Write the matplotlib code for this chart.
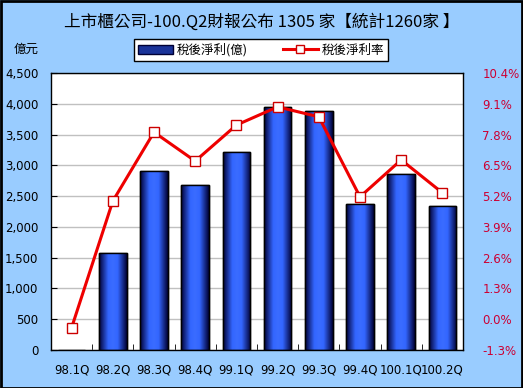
import numpy as np
import matplotlib
matplotlib.use("Agg")
import matplotlib.pyplot as plt
from matplotlib.colors import LinearSegmentedColormap
from matplotlib.lines import Line2D
from matplotlib.patches import Patch

plt.rcParams['font.family'] = ['Noto Sans CJK TC', 'DejaVu Sans']

categories = ['98.1Q', '98.2Q', '98.3Q', '98.4Q', '99.1Q', '99.2Q', '99.3Q', '99.4Q', '100.1Q', '100.2Q']
profit = [0, 1580, 2905, 2680, 3215, 3945, 3878, 2368, 2855, 2335]
rate = [-0.36, 4.99, 7.90, 6.68, 8.20, 8.97, 8.55, 5.17, 6.73, 5.34]
left_ticks = [0, 500, 1000, 1500, 2000, 2500, 3000, 3500, 4000, 4500]
right_ticks = [-1.3, 0.0, 1.3, 2.6, 3.9, 5.2, 6.5, 7.8, 9.1, 10.4]

title = '上市櫃公司-100.Q2財報公布 1305 家【統計1260家 】'

bg = '#99CCFF'
fig = plt.figure(figsize=(5.23, 3.88), dpi=100, facecolor=bg)
W, H = 523, 388
ax = fig.add_axes([51 / W, 1 - 350 / H, (463 - 51) / W, (350 - 73) / H])
ax.set_facecolor('white')

x = np.arange(len(categories))
bars = ax.bar(x, profit, width=0.67, color='#3366FF', edgecolor='black', linewidth=1.0, zorder=2)

cmap = LinearSegmentedColormap.from_list('g', ['#000033', '#1a3399', '#3366FF', '#3a6cff', '#3366FF', '#1a3399', '#000033'])
grad = np.linspace(0, 1, 256).reshape(1, -1)
for b in bars:
    if b.get_height() <= 0:
        continue
    x0 = b.get_x()
    im = ax.imshow(grad, extent=[x0, x0 + b.get_width(), 0, b.get_height()], aspect='auto',
                   cmap=cmap, zorder=2.1, interpolation='bilinear')
    im.set_clip_path(b)
    ax.bar(b.get_x() + b.get_width() / 2, b.get_height(), width=b.get_width(), fill=False,
           edgecolor='black', linewidth=1.0, zorder=2.2)

ax.set_xlim(-0.5, len(categories) - 0.5)
ax.set_ylim(0, 4500)
ax.set_yticks(left_ticks)
ax.set_yticklabels([f'{v:,}' for v in left_ticks], fontsize=8.5, family=['DejaVu Sans'])
ax.set_xticks(x)
ax.set_xticklabels(categories, fontsize=8.5, family=['DejaVu Sans'])
ax.tick_params(axis='x', length=0, pad=10)
ax.set_xticks(np.arange(-0.5, len(categories), 1), minor=True)
ax.tick_params(axis='x', which='minor', direction='in', length=4, color='black')
ax.tick_params(axis='y', direction='in', length=4, pad=9)
ax.yaxis.grid(True, color='#C0C0C0', linewidth=1.0, zorder=0)
ax.set_axisbelow(True)
for s in ax.spines.values():
    s.set_color('black')
    s.set_linewidth(1.0)

ax2 = ax.twinx()
ax2.plot(x, rate, color='#EE0000', linewidth=2.2, marker='s', markersize=6.5,
         markerfacecolor='white', markeredgecolor='#CC0000', markeredgewidth=1.0, zorder=5)
ax2.set_ylim(-1.3, 10.4)
ax2.set_yticks(right_ticks)
ax2.set_yticklabels([f'{v:.1f}%' for v in right_ticks], fontsize=8.5, color='#CC0033', family=['DejaVu Sans'])
ax2.tick_params(axis='y', length=0, pad=14)
for s in ax2.spines.values():
    s.set_visible(False)

fig.text(0.5, 1 - 22 / H, title, ha='center', va='center', fontsize=12)
fig.text(14 / W, 1 - 49 / H, '億元', ha='left', va='center', fontsize=9)

handles = [Patch(facecolor='#1a3399', edgecolor='#000033'),
           Line2D([0], [0], color='#EE0000', linewidth=2.2, marker='s', markersize=6,
                  markerfacecolor='white', markeredgecolor='#CC0000')]
leg = fig.legend(handles, ['稅後淨利(億)', '稅後淨利率'], loc='center', ncol=2,
                 bbox_to_anchor=(261 / W, 1 - 50 / H), fontsize=9, frameon=True, fancybox=False,
                 edgecolor='black', framealpha=1, borderpad=0.35, borderaxespad=0, handlelength=2.8,
                 columnspacing=2.8, handletextpad=0.3)
leg.get_frame().set_linewidth(1.0)

border = plt.Rectangle((0.001, 0.001), 0.997, 0.997, transform=fig.transFigure, fill=False,
                       edgecolor='black', linewidth=2)
fig.patches.append(border)

fig.savefig('out.png', dpi=100, facecolor=bg)
